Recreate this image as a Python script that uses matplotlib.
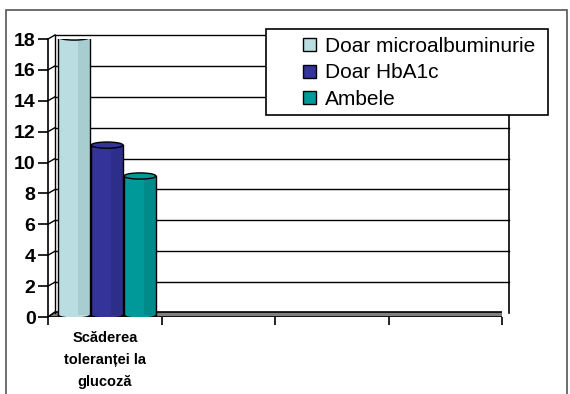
import matplotlib
matplotlib.use("Agg")
import matplotlib.pyplot as plt
from matplotlib.patches import Rectangle, Ellipse, Polygon, Patch
from matplotlib.transforms import offset_copy

plt.rcParams["font.family"] = ["Liberation Sans", "DejaVu Sans"]

series = ["Doar microalbuminurie", "Doar HbA1c", "Ambele"]
values = [18, 11, 9]
colors = ["#b9dde0", "#333399", "#009999"]
dark = ["#a8cdd0", "#2d2d8a", "#008a8a"]
category = "Scăderea\ntoleranței la\nglucoză"
n_slots = 4
yticks = list(range(0, 19, 2))

W, H = 570, 394
fig = plt.figure(figsize=(W / 100, H / 100), dpi=100)
ax = fig.add_axes([48 / W, 77 / H, 454 / W, 278 / H])
ax.set_xlim(0, n_slots)
ax.set_ylim(0, 18)
for s in ax.spines.values():
    s.set_visible(False)
ax.patch.set_visible(False)

# depth offsets (pixels)
back = offset_copy(ax.transData, fig=fig, x=7, y=4, units="dots")
mid = offset_copy(ax.transData, fig=fig, x=3.5, y=2, units="dots")

# floor
fx0, fy0 = ax.transData.transform((0, 0))
fx1, _ = ax.transData.transform((n_slots, 0))
floor_px = [(fx0, fy0), (fx1, fy0), (fx1 + 7, fy0 + 5), (fx0 + 7, fy0 + 5)]
ax.add_patch(Polygon(floor_px, closed=True, transform=None, facecolor="#808080",
                     edgecolor="black", lw=1.2, zorder=1))

# back wall grid, side wall and right wall
for v in yticks[1:]:
    ax.plot([0, n_slots], [v, v], color="black", lw=1, transform=back,
            clip_on=False, zorder=1)
    x0, y0 = ax.transData.transform((0, v))
    ax.plot([x0, x0 + 7], [y0, y0 + 4], color="black", lw=1, transform=None,
            clip_on=False, zorder=1)
ax.plot([0, 0], [0, 18], color="black", lw=1, transform=back, clip_on=False, zorder=1)
ax.plot([n_slots, n_slots], [0, 18], color="black", lw=1.2, transform=back,
        clip_on=False, zorder=1)
ax.plot([0, 0], [0, 18], color="black", lw=1.2, clip_on=False, zorder=1)

# cylinders
width = 0.28
centers = [0.2, 0.49, 0.78]
ell_h = 0.4
for c, v, col, dcol in zip(centers, values, colors, dark):
    ax.add_patch(Ellipse((c, 0), width, ell_h, transform=mid, facecolor=col,
                         edgecolor="black", lw=1, zorder=3))
    ax.add_patch(Rectangle((c - width / 2, 0), width, v, transform=mid,
                           facecolor=col, edgecolor="none", zorder=4))
    ax.add_patch(Rectangle((c + width * 0.12, 0), width * 0.38, v, transform=mid,
                           facecolor=dcol, edgecolor="none", zorder=4))
    ax.plot([c - width / 2, c - width / 2], [0, v], color="black", lw=1,
            transform=mid, zorder=5)
    ax.plot([c + width / 2, c + width / 2], [0, v], color="black", lw=1,
            transform=mid, zorder=5)
    ax.add_patch(Ellipse((c, v), width, ell_h, transform=mid, facecolor=col,
                         edgecolor="black", lw=1, zorder=6))

# ticks
ax.set_yticks(yticks)
ax.set_yticklabels([str(t) for t in yticks], fontsize=14, fontweight="bold")
ax.tick_params(axis="y", length=7, width=1.2, pad=2)
ax.set_xticks(range(n_slots + 1))
ax.set_xticklabels([])
ax.tick_params(axis="x", length=6, width=1.2)
fig.text(105 / W, 1 - 331 / H, category, ha="center", va="top", fontsize=10.5,
         fontweight="bold", linespacing=1.72)

# legend
fig.add_artist(Rectangle((266 / W, 1 - 115 / H), 282 / W, 86 / H,
                         transform=fig.transFigure, facecolor="white",
                         edgecolor="black", lw=1.2, zorder=10))
handles = [Patch(facecolor=c, edgecolor="black", lw=1) for c in colors]
leg = fig.legend(handles, series, loc="upper left",
                 bbox_to_anchor=(303 / W, 1 - 37 / H), frameon=False,
                 fontsize=15, handlelength=0.6, handleheight=0.6,
                 handletextpad=0.45, labelspacing=0.36, borderpad=0,
                 borderaxespad=0)
leg.set_zorder(11)

# outer border
fig.add_artist(Rectangle((6 / W, -0.01), 561 / W, 1 - 10 / H + 0.01,
                         transform=fig.transFigure, fill=False,
                         edgecolor="#555555", lw=1.2))

fig.savefig("out.png", dpi=100)
